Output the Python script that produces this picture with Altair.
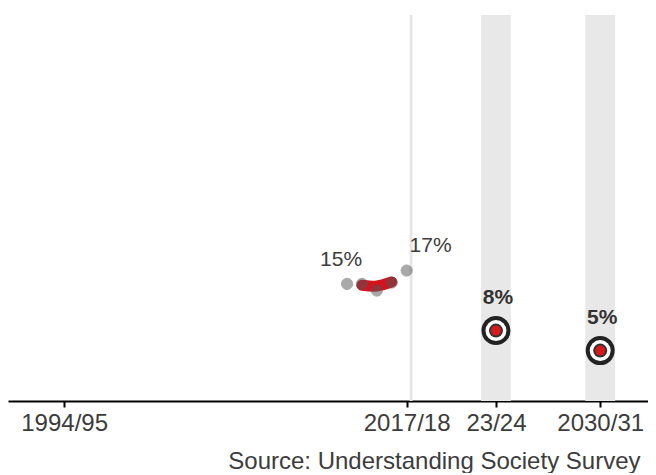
import altair as alt
import pandas as pd

# ---- data ----
obs_years = [2013, 2014, 2015, 2016, 2017]
obs_rates = [15.0, 15.0, 14.0, 15.2, 17.0]

trend_years = [2014, 2015, 2016]
trend_rates = [14.8, 14.5, 15.3]

target_years = [2023, 2030]
target_rates = [8, 5]
target_labels = ["8%", "5%"]

band_start = [2022, 2029]
band_end = [2024, 2031]

marker_year = [2017.3]

note_years_left = [2013]
note_rates_left = [15]
note_text_left = ["15%"]
note_years_right = [2017]
note_rates_right = [17]
note_text_right = ["17%"]

tick_years = [1994, 2017, 2023, 2030]
tick_labels = ["1994/95", "2017/18", "23/24", "2030/31"]

source_text = "Source: Understanding Society Survey"

FONT = "Liberation Sans"
TXT = "#3c3c3c"

obs = pd.DataFrame({"year": obs_years, "rate": obs_rates})
trend = pd.DataFrame({"year": trend_years, "rate": trend_rates})
targets = pd.DataFrame({"year": target_years, "rate": target_rates, "label": target_labels})
bands = pd.DataFrame({"start": band_start, "end": band_end})
marker = pd.DataFrame({"year": marker_year})
notes_l = pd.DataFrame({"year": note_years_left, "rate": note_rates_left, "label": note_text_left})
notes_r = pd.DataFrame({"year": note_years_right, "rate": note_rates_right, "label": note_text_right})

label_expr = " : ".join(
    f"datum.value == {y} ? '{l}'" for y, l in zip(tick_years, tick_labels)
) + " : ''"

xscale = alt.Scale(domain=[1990.23, 2033.21], nice=False, zero=False)
yscale = alt.Scale(domain=[-2.55, 55.3], nice=False, zero=False)

xaxis = alt.Axis(
    values=tick_years,
    labelExpr=label_expr,
    grid=False,
    domainColor="black",
    domainWidth=2,
    tickColor="black",
    tickWidth=2,
    tickSize=6,
    labelFont=FONT,
    labelFontSize=24,
    labelColor=TXT,
    labelPadding=4,
    labelFlush=False,
    labelOverlap=False,
    title=source_text,
    titleFont=FONT,
    titleFontSize=24,
    titleFontWeight="normal",
    titleColor=TXT,
    titleX=632,
    titleY=67,
    titleAlign="right",
    titleBaseline="alphabetic",
)

X = lambda f="year": alt.X(f, type="quantitative", scale=xscale, axis=xaxis)
Y = lambda f="rate": alt.Y(f, type="quantitative", scale=yscale, axis=None)

band_layer = alt.Chart(bands).mark_rect(color="#e8e8e8").encode(
    x=alt.X("start:Q", scale=xscale, axis=xaxis), x2="end:Q"
)
marker_layer = alt.Chart(marker).mark_rule(color="#e6e6e6", strokeWidth=3).encode(x=X())

trend_layer = alt.Chart(trend).mark_line(
    color="#d3141f", strokeWidth=11, strokeCap="round", interpolate="basis"
).encode(x=X(), y=Y())

obs_layer = alt.Chart(obs).mark_circle(
    size=125, color="#555555", opacity=0.5, stroke="#555555", strokeWidth=1
).encode(x=X(), y=Y())

t1 = alt.Chart(targets).mark_circle(size=841, color="#222222", opacity=1).encode(x=X(), y=Y())
t2 = alt.Chart(targets).mark_circle(size=441, color="white", opacity=1).encode(x=X(), y=Y())
t3 = alt.Chart(targets).mark_circle(size=196, color="#333333", opacity=1).encode(x=X(), y=Y())
t4 = alt.Chart(targets).mark_circle(size=100, color="#d7191c", opacity=1).encode(x=X(), y=Y())

t_text = alt.Chart(targets).mark_text(
    font=FONT, fontSize=21, fontWeight="bold", color="#333333", dy=-33, dx=2, baseline="middle"
).encode(x=X(), y=Y(), text="label:N")

n_left = alt.Chart(notes_l).mark_text(
    font=FONT, fontSize=21, color=TXT, dx=-6, dy=-24, baseline="middle", align="center"
).encode(x=X(), y=Y(), text="label:N")
n_right = alt.Chart(notes_r).mark_text(
    font=FONT, fontSize=21, color=TXT, dx=3, dy=-25, baseline="middle", align="left"
).encode(x=X(), y=Y(), text="label:N")

chart = alt.layer(
    band_layer, marker_layer, trend_layer, obs_layer, t1, t2, t3, t4, t_text, n_left, n_right
).properties(
    width=640, height=386, padding={"top": 5, "left": 0, "right": 0, "bottom": 0}
).configure_view(stroke=None)

chart.save("out.html", embed_options={"renderer": "svg", "actions": False})
